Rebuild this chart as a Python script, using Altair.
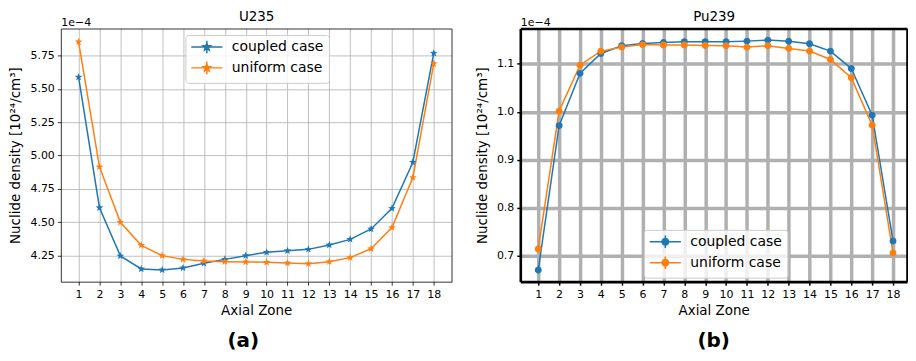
import math
import altair as alt
import pandas as pd

# ---------------- data ----------------
zones = list(range(1, 19))
series_names = ["coupled case", "uniform case"]
series_colors = ["#1f77b4", "#ff7f0e"]

# U235 nuclide density, units of 1e-4 [10^24/cm^3]
u235_coupled = [5.588, 4.609, 4.248, 4.150, 4.143, 4.158, 4.193, 4.222, 4.250,
                4.275, 4.287, 4.297, 4.330, 4.372, 4.450, 4.604, 4.950, 5.767]
u235_uniform = [5.852, 4.915, 4.500, 4.327, 4.250, 4.222, 4.210, 4.205, 4.203,
                4.200, 4.195, 4.190, 4.205, 4.235, 4.302, 4.460, 4.835, 5.688]

# Pu239 nuclide density, units of 1e-4 [10^24/cm^3]
pu239_coupled = [0.670, 0.971, 1.080, 1.1215, 1.1375, 1.1423, 1.1444, 1.1458, 1.1458,
                 1.1458, 1.1472, 1.1493, 1.1470, 1.1417, 1.1264, 1.090, 0.993, 0.7306]
pu239_uniform = [0.714, 1.0014, 1.097, 1.1264, 1.1347, 1.140, 1.139, 1.139, 1.138,
                 1.1375, 1.1347, 1.1375, 1.132, 1.1264, 1.109, 1.0708, 0.972, 0.7056]

u235_ticks = [4.25, 4.50, 4.75, 5.00, 5.25, 5.50, 5.75]
pu239_ticks = [0.7, 0.8, 0.9, 1.0, 1.1]

FONT = "DejaVu Sans"
Y_TITLE = "Nuclide density [10\u00b2\u2074/cm\u00b3]"
OFFSET_TEXT = "1e\u22124"


def long_df(a, b):
    rows = []
    for name, vals in zip(series_names, [a, b]):
        for z, v in zip(zones, vals):
            rows.append({"zone": z, "value": v, "series": name})
    return pd.DataFrame(rows)


def star_path(R, r):
    pts = []
    for i in range(10):
        ang = -math.pi / 2 + i * math.pi / 5
        rad = R if i % 2 == 0 else r
        pts.append(f"{rad * math.cos(ang):.3f},{rad * math.sin(ang):.3f}")
    return "M" + "L".join(pts) + "Z"


def circle_path(R):
    pts = []
    for i in range(16):
        ang = i * math.pi / 8
        pts.append(f"{R * math.cos(ang):.3f},{R * math.sin(ang):.3f}")
    return "M" + "L".join(pts) + "Z"


def legend_path(marker):
    # errorbar-style legend glyph: horizontal line, vertical bar, marker
    return "M-2.6,0L2.6,0M0,-1.05L0,1.05" + marker


def panel(df, top_title, label, ydom, yticks, yfmt, shape, msize, marker,
          grid_w, spine_w, tick_w, leg_x, leg_y, width, xdom, label_dx):
    color = alt.Color(
        "series:N",
        scale=alt.Scale(domain=series_names, range=series_colors),
        legend=alt.Legend(
            title=None, orient="none", legendX=leg_x, legendY=leg_y,
            symbolType=legend_path(marker), symbolSize=144, symbolStrokeWidth=1.5,
            symbolOffset=9.5, labelOffset=18, labelFontSize=14, labelFont=FONT,
            labelColor="black", padding=5, rowPadding=1,
            fillColor="rgba(255,255,255,0.8)", strokeColor="#cccccc",
            cornerRadius=3, labelLimit=300,
        ),
    )
    xscale = alt.Scale(domain=xdom, nice=False, zero=False)
    yscale = alt.Scale(domain=ydom, nice=False, zero=False)

    x_bottom = alt.X(
        "zone:Q", scale=xscale,
        axis=alt.Axis(values=zones, format="d", title="Axial Zone", grid=True,
                      gridColor="#b0b0b0", gridWidth=grid_w, domainColor="black",
                      domainWidth=spine_w, tickColor="black", tickWidth=tick_w,
                      tickSize=3.5, labelFontSize=11, labelPadding=3,
                      titleFontSize=13.5, titlePadding=4, labelFlush=False,
                      titleFontWeight="normal"),
    )
    y_left = alt.Y(
        "value:Q", scale=yscale,
        axis=alt.Axis(values=yticks, format=yfmt, title=Y_TITLE, grid=True,
                      gridColor="#b0b0b0", gridWidth=grid_w, domainColor="black",
                      domainWidth=spine_w, tickColor="black", tickWidth=tick_w,
                      tickSize=3.5, labelFontSize=11, labelPadding=3,
                      titleFontSize=13.5, titlePadding=7, labelFlush=False,
                      titleFontWeight="normal"),
    )
    x_top = alt.X(
        "zone:Q", scale=xscale,
        axis=alt.Axis(orient="top", title=top_title, labels=False, ticks=False,
                      grid=False, domainColor="black", domainWidth=spine_w,
                      titleFontSize=13.5, titlePadding=5,
                      titleFontWeight="normal"),
    )
    y_right = alt.Y(
        "value:Q", scale=yscale,
        axis=alt.Axis(orient="right", title=OFFSET_TEXT, labels=False, ticks=False,
                      grid=False, domainColor="black", domainWidth=spine_w,
                      titleAngle=0, titleX=-width, titleY=-3, titleAlign="left",
                      titleBaseline="alphabetic", titleFontSize=11,
                      titleFontWeight="normal"),
    )

    line = alt.Chart(df).mark_line(strokeWidth=1.5).encode(
        x=x_bottom, y=y_left, color=color)
    pts = alt.Chart(df).mark_point(filled=True, shape=shape, size=msize,
                                   opacity=1).encode(
        x=x_top, y=y_right, color=color)

    return alt.layer(line, pts).resolve_axis(
        x="independent", y="independent"
    ).properties(
        width=width, height=254,
        title=alt.TitleParams(label, orient="bottom", fontSize=20,
                              fontWeight="bold", font=FONT, offset=15,
                              dx=label_dx, color="black"),
    )


left = panel(long_df(u235_coupled, u235_uniform), "U235", "(a)",
             [4.055, 5.952], u235_ticks, ".2f", star_path(1.0, 0.42), 65,
             star_path(0.65, 0.27), 0.8, 0.8, 0.8, 125, 6.5, 392,
             [0.15, 18.85], -13)
right = panel(long_df(pu239_coupled, pu239_uniform), "Pu239", "(b)",
              [0.6458, 1.1735], pu239_ticks, ".1f", circle_path(1.0), 48,
              circle_path(0.55), 3.5, 2.6, 1.5, 124, 202, 388,
              [0.14, 18.67], 0)

chart = alt.hconcat(left, right, spacing=22).resolve_scale(
    color="independent"
).resolve_legend(
    color="independent"
).properties(
    padding=0
).configure_view(
    stroke="transparent"
).configure_axis(
    labelFont=FONT, titleFont=FONT, labelColor="black", titleColor="black",
    titleFontWeight="normal"
).configure_title(font=FONT)

chart.save("out.html", embed_options={"renderer": "svg", "actions": False})
